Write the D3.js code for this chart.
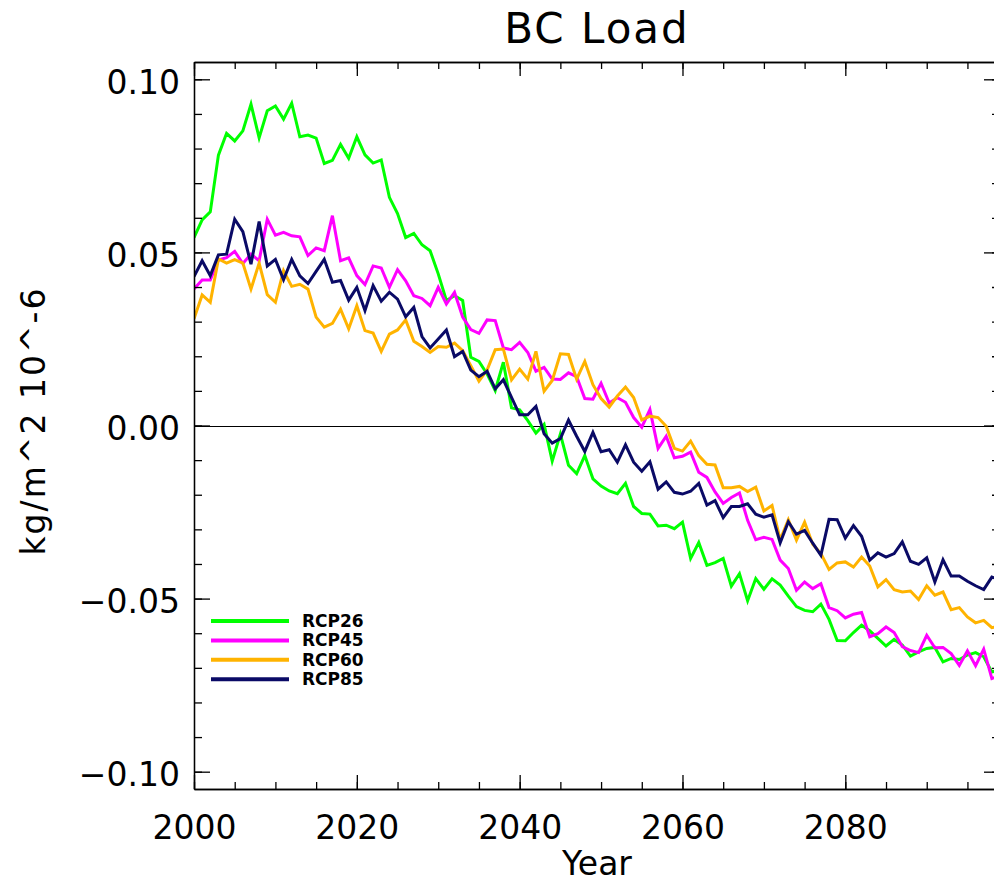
<!DOCTYPE html>
<html>
<head>
<meta charset="utf-8">
<script src="https://cdn.jsdelivr.net/npm/d3@7"></script>
<style>
  html, body { margin: 0; padding: 0; background: #fff; overflow: hidden; }
  svg { display: block; }
  text { font-family: "DejaVu Sans", sans-serif; fill: #000; }
</style>
</head>
<body>
<div id="chart"></div>
<script>
// ---- data ----
const years = d3.range(2000, 2100);
const seriesNames = ["RCP26", "RCP45", "RCP60", "RCP85"];
const seriesColors = ["#00ff00", "#ff00ff", "#ffb300", "#0a0a66"];

const rcp26 = [
  0.0543, 0.0594, 0.0617, 0.0781, 0.0844, 0.0822, 0.0851, 0.0928, 0.0831, 0.0909,
  0.0923, 0.0885, 0.0931, 0.0834, 0.0839, 0.0830, 0.0757, 0.0766, 0.0812, 0.0772,
  0.0834, 0.0782, 0.0758, 0.0767, 0.0659, 0.0612, 0.0543, 0.0555, 0.0522, 0.0505,
  0.0438, 0.0361, 0.0375, 0.0361, 0.0197, 0.0185, 0.0149, 0.0101, 0.0183, 0.0051,
  0.0045, 0.0014, -0.0022, 0.0003, -0.0103, -0.0025, -0.0115, -0.0139, -0.0087, -0.0154,
  -0.0175, -0.0189, -0.0197, -0.0167, -0.0234, -0.0254, -0.0256, -0.0290, -0.0288, -0.0298,
  -0.0279, -0.0384, -0.0338, -0.0404, -0.0396, -0.0384, -0.0464, -0.0428, -0.0506, -0.0442,
  -0.0473, -0.0443, -0.0461, -0.0493, -0.0523, -0.0534, -0.0538, -0.0516, -0.0560, -0.0621,
  -0.0622, -0.0598, -0.0577, -0.0593, -0.0615, -0.0637, -0.0618, -0.0634, -0.0666, -0.0654,
  -0.0644, -0.0641, -0.0683, -0.0673, -0.0676, -0.0663, -0.0656, -0.0668, -0.0712, -0.0705
];
const rcp45 = [
  0.0394, 0.0420, 0.0420, 0.0478, 0.0485, 0.0503, 0.0468, 0.0495, 0.0476, 0.0596,
  0.0550, 0.0558, 0.0548, 0.0545, 0.0491, 0.0513, 0.0505, 0.0606, 0.0476, 0.0484,
  0.0433, 0.0407, 0.0461, 0.0455, 0.0399, 0.0450, 0.0418, 0.0375, 0.0367, 0.0346,
  0.0399, 0.0351, 0.0385, 0.0313, 0.0277, 0.0266, 0.0305, 0.0303, 0.0224, 0.0219,
  0.0240, 0.0211, 0.0157, 0.0168, 0.0134, 0.0133, 0.0152, 0.0141, 0.0078, 0.0076,
  0.0122, 0.0065, 0.0080, 0.0067, 0.0023, -0.0005, 0.0046, -0.0066, -0.0031, -0.0093,
  -0.0089, -0.0077, -0.0135, -0.0150, -0.0192, -0.0225, -0.0208, -0.0195, -0.0274, -0.0330,
  -0.0323, -0.0329, -0.0389, -0.0413, -0.0476, -0.0452, -0.0471, -0.0457, -0.0526, -0.0535,
  -0.0556, -0.0545, -0.0540, -0.0610, -0.0601, -0.0582, -0.0598, -0.0639, -0.0650, -0.0656,
  -0.0606, -0.0642, -0.0641, -0.0659, -0.0693, -0.0651, -0.0694, -0.0646, -0.0731, -0.0722
];
const rcp60 = [
  0.0308, 0.0377, 0.0356, 0.0481, 0.0469, 0.0479, 0.0469, 0.0394, 0.0469, 0.0378,
  0.0356, 0.0447, 0.0402, 0.0408, 0.0394, 0.0313, 0.0284, 0.0295, 0.0336, 0.0279,
  0.0346, 0.0274, 0.0267, 0.0214, 0.0264, 0.0276, 0.0305, 0.0243, 0.0228, 0.0211,
  0.0228, 0.0226, 0.0238, 0.0216, 0.0173, 0.0128, 0.0160, 0.0219, 0.0221, 0.0132,
  0.0163, 0.0134, 0.0214, 0.0099, 0.0130, 0.0207, 0.0205, 0.0134, 0.0185, 0.0118,
  0.0078, 0.0053, 0.0085, 0.0111, 0.0081, 0.0016, 0.0027, 0.0023, -0.0002, -0.0066,
  -0.0074, -0.0045, -0.0087, -0.0112, -0.0114, -0.0180, -0.0180, -0.0176, -0.0191, -0.0178,
  -0.0247, -0.0231, -0.0330, -0.0272, -0.0331, -0.0279, -0.0343, -0.0370, -0.0416, -0.0397,
  -0.0394, -0.0409, -0.0380, -0.0406, -0.0466, -0.0445, -0.0474, -0.0481, -0.0478, -0.0503,
  -0.0463, -0.0490, -0.0481, -0.0532, -0.0526, -0.0553, -0.0570, -0.0563, -0.0584, -0.0580
];
const rcp85 = [
  0.0430, 0.0476, 0.0433, 0.0493, 0.0495, 0.0596, 0.0560, 0.0466, 0.0589, 0.0461,
  0.0480, 0.0421, 0.0480, 0.0432, 0.0410, 0.0445, 0.0480, 0.0414, 0.0419, 0.0362,
  0.0399, 0.0332, 0.0404, 0.0359, 0.0385, 0.0365, 0.0314, 0.0341, 0.0257, 0.0224,
  0.0250, 0.0276, 0.0199, 0.0214, 0.0160, 0.0141, 0.0157, 0.0106, 0.0132, 0.0081,
  0.0031, 0.0031, 0.0055, -0.0024, -0.0051, -0.0038, 0.0016, -0.0031, -0.0075, -0.0020,
  -0.0076, -0.0070, -0.0106, -0.0056, -0.0106, -0.0132, -0.0105, -0.0184, -0.0163, -0.0193,
  -0.0198, -0.0190, -0.0167, -0.0230, -0.0217, -0.0266, -0.0234, -0.0234, -0.0226, -0.0256,
  -0.0265, -0.0258, -0.0339, -0.0278, -0.0314, -0.0303, -0.0340, -0.0375, -0.0271, -0.0272,
  -0.0325, -0.0289, -0.0320, -0.0389, -0.0368, -0.0380, -0.0370, -0.0336, -0.0392, -0.0401,
  -0.0382, -0.0452, -0.0388, -0.0435, -0.0435, -0.0450, -0.0463, -0.0474, -0.0438, -0.0445
];
const seriesValues = [rcp26, rcp45, rcp60, rcp85];

const xMajorTicks = [2000, 2020, 2040, 2060, 2080];
const xMinorTicks = d3.range(2000, 2100, 5);
const yMajorTicks = [-0.10, -0.05, 0.00, 0.05, 0.10];
const yMinorTicks = d3.range(-10, 11).map(d => d / 100);

const titleText = "BC Load";
const xTitle = "Year";
const yTitle = "kg/m^2 10^-6";

// ---- layout ----
const W = 994, H = 884;
const pLeft = 194, pRight = 1000, pTop = 62, pBottom = 789;

const svg = d3.select("#chart").append("svg")
  .attr("width", W).attr("height", H);

const x = d3.scaleLinear().domain([2000, 2099]).range([pLeft, pRight]);
const y = d3.scaleLinear().domain([-0.105, 0.105]).range([pBottom, pTop]);

svg.append("defs").append("clipPath").attr("id", "plotclip")
  .append("rect").attr("x", pLeft).attr("y", pTop)
  .attr("width", pRight - pLeft).attr("height", pBottom - pTop);

// zero line
svg.append("line")
  .attr("x1", pLeft).attr("x2", pRight)
  .attr("y1", Math.round(y(0)) + 0.5).attr("y2", Math.round(y(0)) + 0.5)
  .attr("stroke", "#000").attr("stroke-width", 1.2);

// series
const line = d3.line().x((d, i) => x(years[i])).y(d => y(d));
const gLines = svg.append("g").attr("clip-path", "url(#plotclip)");
seriesValues.forEach((vals, i) => {
  gLines.append("path")
    .datum(vals)
    .attr("d", line)
    .attr("fill", "none")
    .attr("stroke", seriesColors[i])
    .attr("stroke-width", 3)
    .attr("stroke-linejoin", "miter");
});

// axes
function styleAxis(g) {
  g.selectAll("path.domain").attr("stroke", "#000").attr("stroke-width", 1.3);
  g.selectAll(".tick line").attr("stroke", "#000").attr("stroke-width", 1.3);
}

// bottom
svg.append("g").attr("transform", `translate(0,${pBottom})`)
  .call(d3.axisBottom(x).tickValues(xMinorTicks).tickSize(-7).tickSizeOuter(0).tickFormat(""))
  .call(styleAxis);
const bx = svg.append("g").attr("transform", `translate(0,${pBottom})`)
  .call(d3.axisBottom(x).tickValues(xMajorTicks).tickSize(-14).tickSizeOuter(0)
    .tickPadding(27).tickFormat(d3.format("d")))
  .call(styleAxis);
bx.selectAll("text").attr("font-size", 33).attr("font-family", "DejaVu Sans");

// top
svg.append("g").attr("transform", `translate(0,${pTop})`)
  .call(d3.axisTop(x).tickValues(xMinorTicks).tickSize(-7).tickSizeOuter(0).tickFormat(""))
  .call(styleAxis);
svg.append("g").attr("transform", `translate(0,${pTop})`)
  .call(d3.axisTop(x).tickValues(xMajorTicks).tickSize(-14).tickSizeOuter(0).tickFormat(""))
  .call(styleAxis);

// left
svg.append("g").attr("transform", `translate(${pLeft},0)`)
  .call(d3.axisLeft(y).tickValues(yMinorTicks).tickSize(-8).tickSizeOuter(0).tickFormat(""))
  .call(styleAxis);
const ly = svg.append("g").attr("transform", `translate(${pLeft},0)`)
  .call(d3.axisLeft(y).tickValues(yMajorTicks).tickSize(-16).tickSizeOuter(0)
    .tickPadding(14).tickFormat(d => d3.format(".2f")(d).replace("-", "\u2212")))
  .call(styleAxis);
ly.selectAll("text").attr("font-size", 33).attr("font-family", "DejaVu Sans").attr("dy", "0.42em");

// right
svg.append("g").attr("transform", `translate(${pRight},0)`)
  .call(d3.axisRight(y).tickValues(yMinorTicks).tickSize(-8).tickSizeOuter(0).tickFormat(""))
  .call(styleAxis);
svg.append("g").attr("transform", `translate(${pRight},0)`)
  .call(d3.axisRight(y).tickValues(yMajorTicks).tickSize(-16).tickSizeOuter(0).tickFormat(""))
  .call(styleAxis);

// titles
svg.append("text")
  .attr("x", (pLeft + pRight) / 2).attr("y", 43)
  .attr("text-anchor", "middle").attr("font-size", 42).attr("letter-spacing", 2)
  .text(titleText);

svg.append("text")
  .attr("x", (pLeft + pRight) / 2).attr("y", 875)
  .attr("text-anchor", "middle").attr("font-size", 33)
  .text(xTitle);

svg.append("text")
  .attr("transform", `translate(45,${421}) rotate(-90)`)
  .attr("text-anchor", "middle").attr("font-size", 33).attr("letter-spacing", 2)
  .text(yTitle);

// legend
const legendX1 = 211, legendX2 = 289, legendTextX = 302, legendY0 = 621, legendDy = 19.4;
const lg = svg.append("g");
seriesNames.forEach((name, i) => {
  const yy = legendY0 + i * legendDy;
  lg.append("line")
    .attr("x1", legendX1).attr("x2", legendX2)
    .attr("y1", yy).attr("y2", yy)
    .attr("stroke", seriesColors[i]).attr("stroke-width", 4);
  lg.append("text")
    .attr("x", legendTextX).attr("y", yy + 6)
    .attr("font-family", "Liberation Sans, Arial, sans-serif")
    .attr("font-weight", "bold").attr("font-size", 17)
    .text(name);
});
</script>
</body>
</html>
